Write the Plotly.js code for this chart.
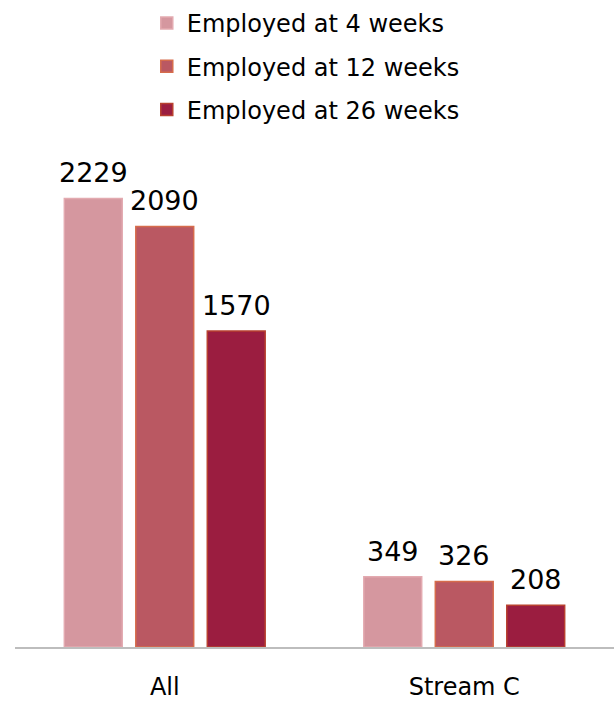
<!DOCTYPE html>
<html>
<head>
<meta charset="utf-8">
<script src="https://cdn.plot.ly/plotly-3.0.1.min.js"></script>
<style>html,body{margin:0;padding:0;background:#fff;}#chart{width:614px;height:702px;}</style>
</head>
<body>
<div id="chart"></div>
<script>
const categories = ["All", "Stream C"];
const seriesNames = ["Employed at 4 weeks", "Employed at 12 weeks", "Employed at 26 weeks"];
const week4 = [2229, 349];
const week12 = [2090, 326];
const week26 = [1570, 208];

const fills = ["#d5979f", "#ba5862", "#9b1d40"];
const lines = ["#e3aab0", "#d66c4c", "#b8402f"];
const values = [week4, week12, week26];
const FONT = "'DejaVu Sans', sans-serif";

const traces = values.map((v, i) => ({
  type: "bar",
  name: seriesNames[i],
  x: categories,
  y: v,
  marker: {color: fills[i], line: {color: lines[i], width: 1.5}},
  legendgroup: "g" + i,
  hoverinfo: "x+y"
}));

// value labels above each bar, placed at the data coordinates
const slotPx = 71.5;
const annotations = [];
values.forEach((v, i) => {
  v.forEach((val, j) => {
    annotations.push({
      xref: "x", yref: "y", x: categories[j], y: val,
      text: String(val), showarrow: false,
      xanchor: "center", yanchor: "bottom",
      xshift: (i - 1) * slotPx, yshift: 8,
      font: {family: FONT, size: 27, color: "#000"}
    });
  });
});

const layout = {
  width: 614, height: 702,
  margin: {l: 15, r: 0, t: 150, b: 55},
  paper_bgcolor: "#fff", plot_bgcolor: "#fff",
  font: {family: FONT, color: "#000"},
  barmode: "group",
  bargap: 0.284,
  bargroupgap: 0.19,
  showlegend: true,
  annotations: annotations,
  legend: {
    x: 0.22, y: 1.3, xanchor: "left", yanchor: "top",
    font: {family: FONT, size: 24, color: "#000"},
    tracegroupgap: 9,
    itemwidth: 30,
    bgcolor: "rgba(0,0,0,0)"
  },
  xaxis: {
    showline: true, linecolor: "#bdbdbd", linewidth: 2,
    ticks: "", ticklabelstandoff: 17,
    tickfont: {family: FONT, size: 24, color: "#000"},
    showgrid: false
  },
  yaxis: {
    range: [0, 2470], visible: false, showgrid: false, zeroline: false, fixedrange: true
  }
};

Plotly.newPlot("chart", traces, layout, {displayModeBar: false, staticPlot: true});
</script>
</body>
</html>
